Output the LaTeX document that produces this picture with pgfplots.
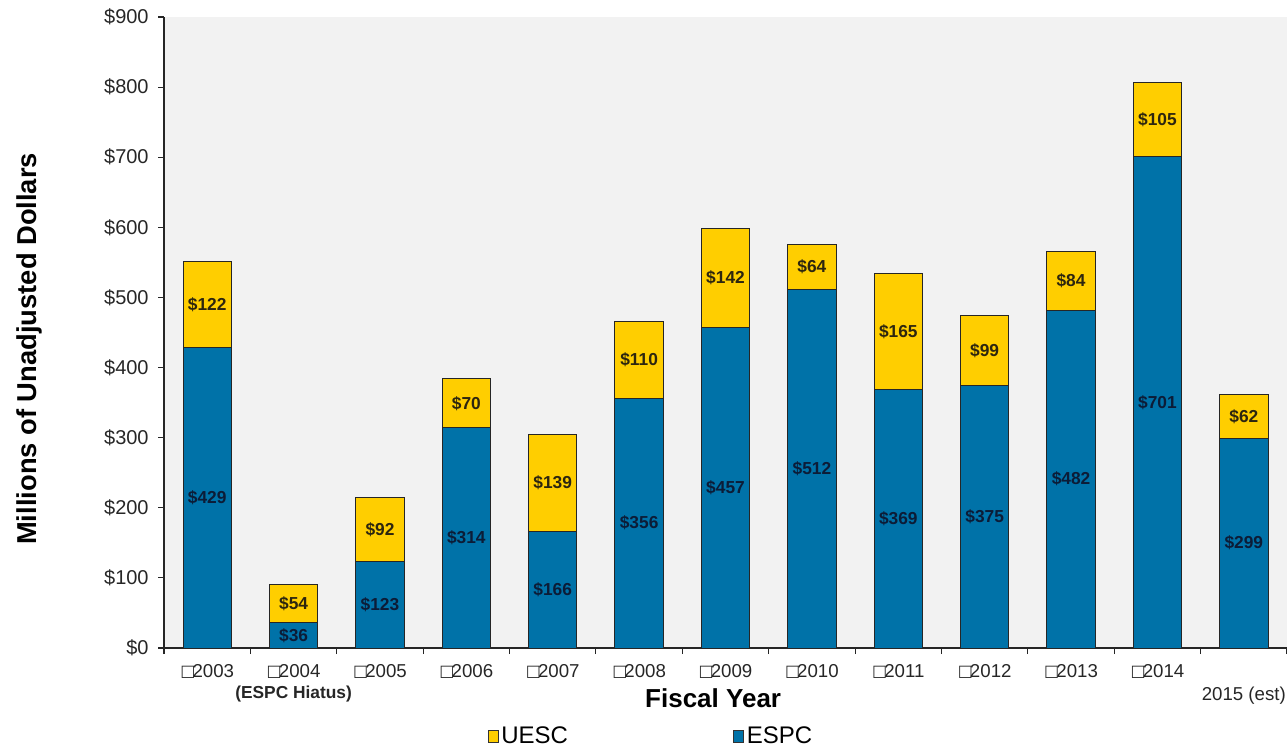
\documentclass[border=0pt]{standalone}
\usepackage{fontspec}
\setmainfont{Liberation Sans}
\newfontfamily\dejavu{DejaVu Sans}
\usepackage{pgfplots}
\pgfplotsset{compat=1.18}
\definecolor{espc}{RGB}{0,114,168}
\definecolor{uesc}{RGB}{255,206,0}
\definecolor{lblb}{RGB}{12,28,55}
\definecolor{lbly}{RGB}{45,38,15}
\newcommand\bx{{\dejavu\fontsize{12}{12}\selectfont\raisebox{0.3pt}{\char"25A1}}\kern-2.2pt}
\pgfplotstableread{
x espc uesc
0 429 122
1 36 54
2 123 92
3 314 70
4 166 139
5 356 110
6 457 142
7 512 64
8 369 165
9 375 99
10 482 84
11 701 105
12 299 62
}\datatable
\begin{document}
\begin{tikzpicture}
\path[use as bounding box] (0,0) rectangle (965.25pt,562.5pt);
\begin{axis}[
  at={(123pt,76.5pt)}, anchor=south west,
  width=842.25pt, height=473.25pt, scale only axis,
  ybar stacked, bar width=0.56,
  xmin=-0.5, xmax=12.5, ymin=0, ymax=900,
  axis x line*=bottom, axis y line*=left,
  axis line style={-, black!85, line width=0.8pt},
  axis background/.style={fill=gray!10},
  tick align=outside, major tick length=4.5pt,
  tick style={black!85, line width=0.8pt},
  xtick={-0.5,0.5,...,12.5},
  x tick label as interval,
  xticklabels={\bx2003,{\bx2004\\{\bfseries\fontsize{13}{15}\selectfont(ESPC Hiatus)}},\bx2005,\bx2006,\bx2007,\bx2008,\bx2009,\bx2010,\bx2011,\bx2012,\bx2013,\bx2014,{\strut\\2015 (est)}},
  xticklabel style={font=\fontsize{14}{16}\selectfont, align=center, text=black!85, yshift=-4pt},
  ytick={0,100,...,900},
  yticklabels={\$0,\$100,\$200,\$300,\$400,\$500,\$600,\$700,\$800,\$900},
  yticklabel style={font=\fontsize{15}{18}\selectfont, text=black!85, xshift=-3.5pt},
  ylabel={Millions of Unadjusted Dollars},
  ylabel style={font=\bfseries\fontsize{20.5}{24}\selectfont, at={(axis description cs:-0.12,0.474)}, anchor=center},
  xlabel={Fiscal Year},
  xlabel style={font=\bfseries\fontsize{19.5}{23}\selectfont, at={(axis description cs:0.489,-0.079)}, anchor=center},
  point meta=rawy,
  nodes near coords={\$\pgfmathprintnumber[assume math mode=true]{\pgfplotspointmeta}},
  every node near coord/.append style={font=\bfseries\fontsize{13}{15}\selectfont, anchor=center},
  reverse legend,
  legend columns=2,
  legend style={draw=none, fill=none, font=\fontsize{18}{20}\selectfont, at={(axis description cs:0.434,-0.140)}, anchor=center,
    /tikz/every even column/.append style={column sep=122pt}},
  legend image code/.code={\draw[#1, draw=black!80, line width=0.6pt] (0pt,-4.5pt) rectangle (7.5pt,4.5pt);},
]
\addplot[fill=espc, draw=black!85, line width=0.75pt, every node near coord/.append style={text=lblb}] table[x=x, y=espc] {\datatable};
\addlegendentry{ESPC}
\addplot[fill=uesc, draw=black!85, line width=0.75pt, every node near coord/.append style={text=lbly}] table[x=x, y=uesc] {\datatable};
\addlegendentry{UESC}
\end{axis}
\end{tikzpicture}
\end{document}
